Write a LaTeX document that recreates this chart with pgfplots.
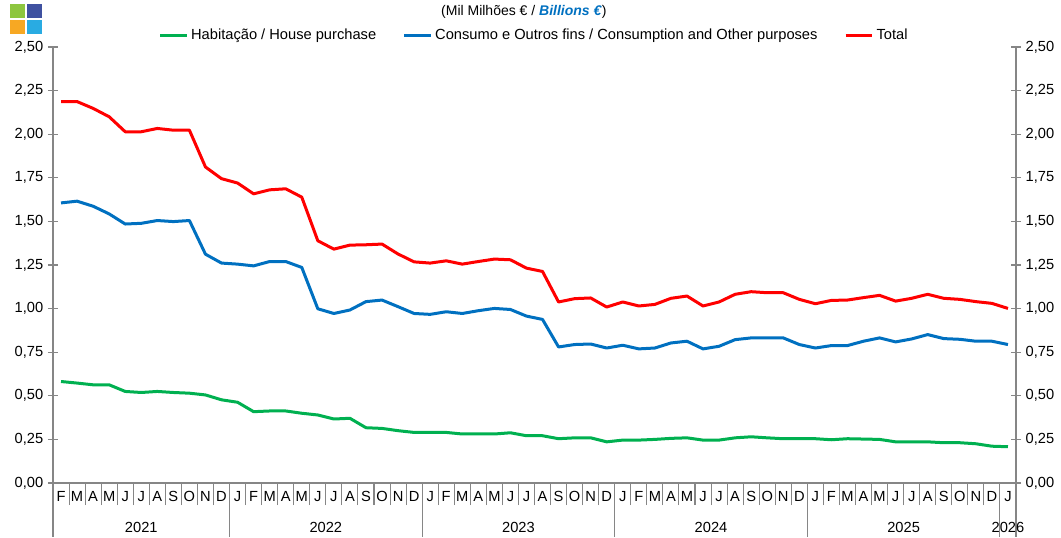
\documentclass[border=0pt]{standalone}
\usepackage{pgfplots}
\pgfplotsset{compat=1.18}
\usepackage{pgfplotstable}
\usepackage{fontspec}
\setmainfont{Liberation Sans}
\definecolor{cgreen}{RGB}{0,176,80}
\definecolor{cblue}{RGB}{0,112,192}
\definecolor{cred}{RGB}{255,0,0}
\definecolor{axgray}{RGB}{134,134,134}
\definecolor{lgreen}{RGB}{141,198,63}
\definecolor{lnavy}{RGB}{63,81,160}
\definecolor{lorange}{RGB}{247,168,35}
\definecolor{lblue}{RGB}{41,171,226}
\pgfplotstableread{
i hab con tot
0 0.582 1.606 2.187
1 0.573 1.616 2.187
2 0.563 1.587 2.148
3 0.563 1.543 2.100
4 0.525 1.485 2.014
5 0.519 1.489 2.014
6 0.525 1.505 2.033
7 0.519 1.499 2.023
8 0.515 1.505 2.023
9 0.505 1.312 1.812
10 0.477 1.261 1.745
11 0.463 1.255 1.720
12 0.409 1.245 1.658
13 0.413 1.270 1.681
14 0.413 1.270 1.687
15 0.400 1.236 1.639
16 0.390 0.999 1.389
17 0.367 0.972 1.341
18 0.371 0.992 1.364
19 0.317 1.040 1.366
20 0.313 1.049 1.370
21 0.300 1.011 1.313
22 0.290 0.972 1.268
23 0.290 0.967 1.261
24 0.290 0.982 1.274
25 0.281 0.972 1.255
26 0.281 0.988 1.270
27 0.281 1.001 1.284
28 0.288 0.995 1.280
29 0.271 0.957 1.232
30 0.271 0.938 1.213
31 0.254 0.780 1.038
32 0.259 0.794 1.057
33 0.259 0.797 1.061
34 0.236 0.774 1.009
35 0.246 0.790 1.038
36 0.246 0.769 1.015
37 0.250 0.774 1.024
38 0.256 0.803 1.059
39 0.259 0.813 1.072
40 0.246 0.769 1.015
41 0.246 0.784 1.038
42 0.259 0.822 1.082
43 0.265 0.832 1.097
44 0.259 0.832 1.091
45 0.254 0.832 1.091
46 0.254 0.794 1.053
47 0.254 0.774 1.028
48 0.248 0.788 1.047
49 0.254 0.788 1.049
50 0.252 0.813 1.063
51 0.250 0.832 1.076
52 0.236 0.809 1.043
53 0.236 0.826 1.059
54 0.236 0.851 1.082
55 0.231 0.828 1.059
56 0.231 0.824 1.053
57 0.225 0.813 1.040
58 0.211 0.813 1.030
59 0.208 0.794 1.001
}\data
\pgfplotsset{common/.style={scale only axis, width=722.25pt, height=327pt,
  xmin=-0.5, xmax=59.5, ymin=0, ymax=2.5, at={(0pt,0pt)}, anchor=south west}}
\newcommand{\lblfont}{\fontsize{11}{13}\selectfont}
\begin{document}
\begin{tikzpicture}
\useasboundingbox (-39.75pt,-40.5pt) rectangle (756pt,362.25pt);
% left y axis
\begin{axis}[common, hide x axis, axis y line*=left,
  y axis line style={axgray, line width=0.8pt, -},
  ytick={0,0.25,0.5,0.75,1,1.25,1.5,1.75,2,2.25,2.5},
  major tick length=7.5pt, tick align=center,
  ytick style={axgray, line width=0.8pt},
  yticklabel style={font=\lblfont, /pgf/number format/.cd, fixed, fixed zerofill, precision=2, use comma, assume math mode=true}]
\end{axis}
% right y axis
\begin{axis}[common, hide x axis, axis y line*=right,
  y axis line style={axgray, line width=0.8pt, -},
  ytick={0,0.25,0.5,0.75,1,1.25,1.5,1.75,2,2.25,2.5},
  yticklabel pos=right,
  major tick length=7.5pt, tick align=center,
  ytick style={axgray, line width=0.8pt},
  yticklabel style={font=\lblfont, /pgf/number format/.cd, fixed, fixed zerofill, precision=2, use comma, assume math mode=true}]
\end{axis}
% main axis
\begin{axis}[common, hide y axis, axis x line*=bottom, clip=false,
  x axis line style={axgray, line width=0.8pt, -},
  xtick={-0.5,0.5,...,59.5},
  x tick label as interval,
  xticklabels={F,M,A,M,J,J,A,S,O,N,D,
    J,F,M,A,M,J,J,A,S,O,N,D,
    J,F,M,A,M,J,J,A,S,O,N,D,
    J,F,M,A,M,J,J,A,S,O,N,D,
    J,F,M,A,M,J,J,A,S,O,N,D,J},
  major tick length=16.5pt, tick align=outside,
  xtick style={axgray, line width=0.8pt},
  xticklabel style={font=\lblfont, yshift=13.5pt},
  legend columns=3,
  legend style={at={(0.5,1)}, anchor=south, yshift=0pt, draw=none, fill=none,
    font=\lblfont, nodes={inner sep=2pt},
    /tikz/every even column/.append style={column sep=18pt}},
  legend image code/.code={\draw[#1] (0pt,0pt) -- (20pt,0pt);},
  every axis plot/.append style={line width=2.25pt, line join=round}]
\addplot[cgreen] table[x=i, y=hab] {\data};
\addlegendentry{Habitação / House purchase}
\addplot[cblue] table[x=i, y=con] {\data};
\addlegendentry{Consumo e Outros fins / Consumption and Other purposes}
\addplot[cred] table[x=i, y=tot] {\data};
\addlegendentry{Total}
\draw[axgray, line width=0.8pt] (axis cs:-0.5,0) -- ++(0pt,-40.5pt);
\draw[axgray, line width=0.8pt] (axis cs:10.5,0) -- ++(0pt,-40.5pt);
\draw[axgray, line width=0.8pt] (axis cs:22.5,0) -- ++(0pt,-40.5pt);
\draw[axgray, line width=0.8pt] (axis cs:34.5,0) -- ++(0pt,-40.5pt);
\draw[axgray, line width=0.8pt] (axis cs:46.5,0) -- ++(0pt,-40.5pt);
\draw[axgray, line width=0.8pt] (axis cs:58.5,0) -- ++(0pt,-40.5pt);
\draw[axgray, line width=0.8pt] (axis cs:59.5,0) -- ++(0pt,-40.5pt);
\node[font=\lblfont] at (axis cs:5,0) [yshift=-33pt] {2021};
\node[font=\lblfont] at (axis cs:16.5,0) [yshift=-33pt] {2022};
\node[font=\lblfont] at (axis cs:28.5,0) [yshift=-33pt] {2023};
\node[font=\lblfont] at (axis cs:40.5,0) [yshift=-33pt] {2024};
\node[font=\lblfont] at (axis cs:52.5,0) [yshift=-33pt] {2025};
\node[font=\lblfont] at (axis cs:59,0) [yshift=-33pt] {2026};
\node[font=\fontsize{10.5}{12}\selectfont] at (rel axis cs:0.489,1) [yshift=26pt]
  {(Mil Milhões € / \textcolor{cblue}{\textbf{\textit{Billions €}}})};
\end{axis}
% logo
\fill[lgreen] (-32.25pt,359.25pt) rectangle (-21pt,348.75pt);
\fill[lnavy] (-19.5pt,359.25pt) rectangle (-8.25pt,348.75pt);
\fill[lorange] (-32.25pt,347.25pt) rectangle (-21pt,336.75pt);
\fill[lblue] (-19.5pt,347.25pt) rectangle (-8.25pt,336.75pt);
\end{tikzpicture}
\end{document}
